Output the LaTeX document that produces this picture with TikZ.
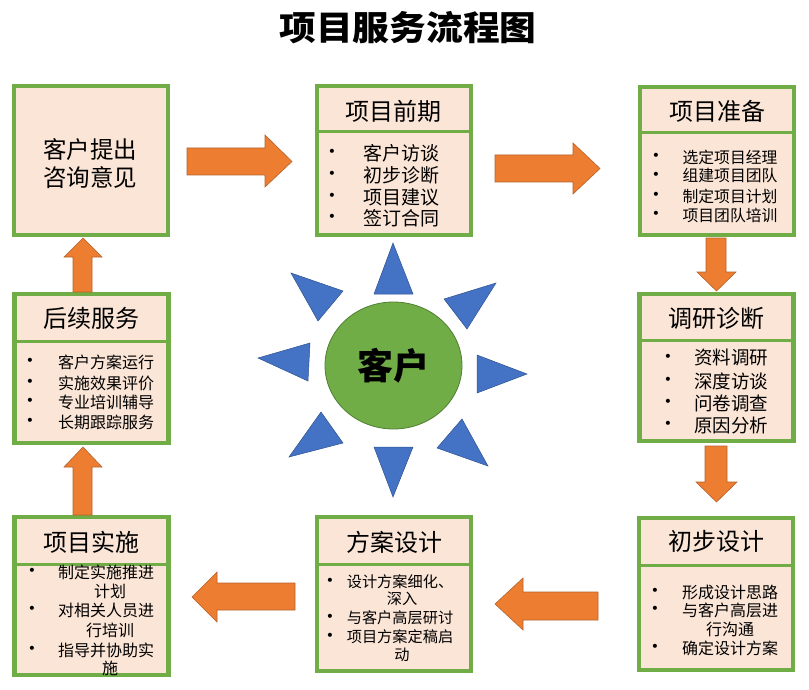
\documentclass[tikz,border=0pt]{standalone}
\usepackage{fontspec}
\setmainfont{Noto Sans CJK SC}
\newfontfamily\dejavu{DejaVu Sans}
\usetikzlibrary{shapes.geometric}
\definecolor{boxgreen}{HTML}{70AD47}
\definecolor{boxfill}{HTML}{FBE5D6}
\definecolor{arrorange}{HTML}{ED7D31}
\definecolor{arrdark}{HTML}{B5622A}
\definecolor{rayblue}{HTML}{4472C4}
\definecolor{raydark}{HTML}{2F528F}
\definecolor{custgreen}{HTML}{70AD47}
\definecolor{custdark}{HTML}{507E32}
\newcommand{\fs}[1]{\fontsize{#1}{#1}\selectfont}
\tikzset{
  box/.style={draw=boxgreen, line width=4.5pt, fill=boxfill, rectangle, inner sep=0pt, minimum width=154pt},
  divider/.style={draw=boxgreen, line width=3pt},
  btitle/.style={font=\fs{24}, inner sep=0pt},
  itm/.style={inner sep=0pt},
  bulletdot/.style={inner sep=0pt, font=\dejavu\fs{14}},
  blockarrow/.style={fill=arrorange, draw=arrdark, line width=0.6pt, line join=miter},
  ray/.style={fill=rayblue, draw=raydark, line width=0.5pt, line join=miter},
}
\begin{document}
\begin{tikzpicture}[x=1pt, y=-1pt]
\useasboundingbox (0,0) rectangle (809,690);
% title
\node[inner sep=0pt, font=\bfseries\fs{34}, xscale=1.08] (title) at (408,28) {项目服务流程图};
% boxes
\node[box, minimum height=149pt] (b1) at (91,160.5) {};
\node[box, minimum height=149pt] (b2) at (394,160.5) {};
\node[box, minimum height=148pt] (b3) at (717,161) {};
\node[box, minimum height=147pt] (b4) at (716.5,367.5) {};
\node[box, minimum height=152pt] (b5) at (716,594) {};
\node[box, minimum height=154pt] (b6) at (394,594) {};
\node[box, minimum height=158pt] (b7) at (91.5,596) {};
\node[box, minimum height=149pt] (b8) at (91.5,368.5) {};
% dividers
\draw[divider] (b2.west |- 0,132) -- (b2.east |- 0,132);
\draw[divider] (b3.west |- 0,133) -- (b3.east |- 0,133);
\draw[divider] (b4.west |- 0,340) -- (b4.east |- 0,340);
\draw[divider] (b5.west |- 0,565) -- (b5.east |- 0,565);
\draw[divider] (b6.west |- 0,564) -- (b6.east |- 0,564);
\draw[divider] (b7.west |- 0,564) -- (b7.east |- 0,564);
\draw[divider] (b8.west |- 0,341) -- (b8.east |- 0,341);
% box 1 text
\node[itm, font=\fs{23.5}] (t1a) at (90,150) {客户提出};
\node[itm, font=\fs{23.5}] (t1b) at (90,178) {咨询意见};
% titles
\node[btitle] (h2) at (393,111) {项目前期};
\node[btitle] (h3) at (717,111) {项目准备};
\node[btitle] (h4) at (716,318) {调研诊断};
\node[btitle] (h5) at (716,541) {初步设计};
\node[btitle] (h6) at (394,542) {方案设计};
\node[btitle] (h7) at (91,542) {项目实施};
\node[btitle] (h8) at (91,318) {后续服务};
% box 2 items
\foreach \t/\y [count=\i] in {客户访谈/153, 初步诊断/175, 项目建议/197, 签订合同/218}{
  \node[bulletdot] (b2d\i) at (332,\y) {•};
  \node[itm, font=\fs{19}] (b2t\i) at (401,\y) {\t};
}
% box 3 items
\foreach \t/\y [count=\i] in {选定项目经理/157, 组建项目团队/176, 制定项目计划/196, 项目团队培训/215}{
  \node[bulletdot] (b3d\i) at (656,\y) {•};
  \node[itm, font=\fs{15.8}] (b3t\i) at (730,\y) {\t};
}
% box 4 items
\foreach \t/\y [count=\i] in {资料调研/358, 深度访谈/381, 问卷调查/403, 原因分析/425}{
  \node[bulletdot] (b4d\i) at (668,\y) {•};
  \node[itm, font=\fs{18.5}] (b4t\i) at (731,\y) {\t};
}
% box 8 items
\foreach \t/\y [count=\i] in {客户方案运行/362, 实施效果评价/383, 专业培训辅导/402, 长期跟踪服务/422}{
  \node[bulletdot] (b8d\i) at (30,\y) {•};
  \node[itm, font=\fs{16}] (b8t\i) at (106,\y) {\t};
}
% box 5 items
\node[bulletdot] (b5d1) at (655,592) {•};
\node[itm, font=\fs{16}] (b5t1) at (730,592) {形成设计思路};
\node[bulletdot] (b5d2) at (655,610) {•};
\node[itm, font=\fs{16}] (b5t2) at (730,610) {与客户高层进};
\node[itm, font=\fs{16}] (b5t3) at (730,629) {行沟通};
\node[bulletdot] (b5d4) at (655,648) {•};
\node[itm, font=\fs{16}] (b5t4) at (730,648) {确定设计方案};
% box 6 items
\node[bulletdot] (b6d1) at (330,582) {•};
\node[itm, font=\fs{15.2}] (b6t1) at (400,582) {设计方案细化、};
\node[itm, font=\fs{15.2}] (b6t2) at (402,599) {深入};
\node[bulletdot] (b6d3) at (330,618) {•};
\node[itm, font=\fs{15.2}] (b6t3) at (400,618) {与客户高层研讨};
\node[bulletdot] (b6d4) at (330,637) {•};
\node[itm, font=\fs{15.2}] (b6t4) at (400,637) {项目方案定稿启};
\node[itm, font=\fs{15.2}] (b6t5) at (402,655) {动};
% box 7 items
\node[bulletdot] (b7d1) at (32,572) {•};
\node[itm, font=\fs{16}] (b7t1) at (106,572) {制定实施推进};
\node[itm, font=\fs{16}] (b7t2) at (110,591) {计划};
\node[bulletdot] (b7d3) at (32,610) {•};
\node[itm, font=\fs{16}] (b7t3) at (106,610) {对相关人员进};
\node[itm, font=\fs{16}] (b7t4) at (110,630) {行培训};
\node[bulletdot] (b7d5) at (32,650) {•};
\node[itm, font=\fs{16}] (b7t5) at (106,650) {指导并协助实};
\node[itm, font=\fs{16}] (b7t6) at (110,668) {施};
% block arrows
\draw[blockarrow] (187,148) -- (265,148) -- (265,135) -- (292,161.5) -- (265,187) -- (265,175) -- (187,175) -- cycle;
\draw[blockarrow] (495,155) -- (573,155) -- (573,143) -- (600,168.5) -- (573,194) -- (573,182) -- (495,182) -- cycle;
\draw[blockarrow] (706,238) -- (706,272) -- (697,272) -- (716.5,291) -- (736,272) -- (726,272) -- (726,238) -- cycle;
\draw[blockarrow] (705,446) -- (705,482) -- (696,482) -- (716.5,502) -- (737,482) -- (727,482) -- (727,446) -- cycle;
\draw[blockarrow] (598,592) -- (523,592) -- (523,578) -- (495,604) -- (523,630) -- (523,620) -- (598,620) -- cycle;
\draw[blockarrow] (295,583) -- (217,583) -- (217,572) -- (192,597) -- (217,622) -- (217,610) -- (295,610) -- cycle;
\draw[blockarrow] (73,515) -- (73,467) -- (64,467) -- (83,447) -- (102,467) -- (92,467) -- (92,515) -- cycle;
\draw[blockarrow] (73,292) -- (73,257) -- (64,257) -- (83,238) -- (102,257) -- (92,257) -- (92,292) -- cycle;
% rays
\draw[ray] (393,243) -- (413,294) -- (374,294) -- cycle;
\draw[ray] (393,497) -- (374,447) -- (413,447) -- cycle;
\draw[ray] (258,358) -- (310,343) -- (308,381) -- cycle;
\draw[ray] (527,374) -- (477,355) -- (477,393) -- cycle;
\draw[ray] (291,273) -- (343,291) -- (318,321) -- cycle;
\draw[ray] (496,283) -- (444,299) -- (467,329) -- cycle;
\draw[ray] (289,457) -- (321,412) -- (343,443) -- cycle;
\draw[ray] (488,466) -- (462,419) -- (437,448) -- cycle;
% customer
\node[ellipse, fill=custgreen, draw=custdark, line width=0.8pt, minimum width=137pt, minimum height=127pt, inner sep=0pt] (cust) at (393.5,365.5) {};
\node[inner sep=0pt, font=\bfseries\fs{36}] (custt) at (cust) {客户};
\end{tikzpicture}
\end{document}
